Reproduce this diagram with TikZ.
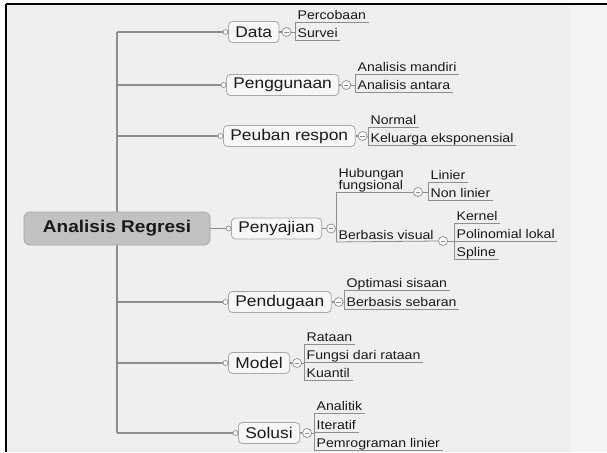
\documentclass[tikz,border=0pt]{standalone}
\usepackage{fontspec}
\setmainfont{Liberation Sans}[FakeStretch=1.12]
\usetikzlibrary{calc}
\definecolor{ln}{HTML}{8E8E8E}
\definecolor{txt}{HTML}{1A1A1A}
\definecolor{bgA}{HTML}{EFEFEF}
\definecolor{bgB}{HTML}{F3F3F3}
\definecolor{boxb}{HTML}{A8A8A8}
\definecolor{rootf}{HTML}{C2C2C2}
\newcommand\leafnode[4]{\node[leaf] (#1) at (#2,#3) {#4}; \draw[uline] (#1.south west) -- (#1.south east);}
\begin{document}
\begin{tikzpicture}[x=1pt,y=-1pt,
  mainbox/.style={draw=boxb, fill=white!97!black, rounded corners=4pt, line width=0.8pt,
    anchor=west, inner xsep=7pt, inner ysep=0pt, minimum height=21pt, text=txt,
    font=\fontsize{15.5}{16}\selectfont},
  rootbox/.style={draw=boxb, fill=rootf, rounded corners=6pt, line width=0.8pt,
    minimum width=186pt, minimum height=33pt, text=txt,
    font=\fontsize{17}{18}\selectfont\bfseries},
  leaf/.style={anchor=south west, inner xsep=2.5pt, inner ysep=2pt, text height=9pt, text depth=0pt,
    text=txt, font=\fontsize{12.6}{12.8}\selectfont},
  uline/.style={draw=ln, line width=0.8pt},
  branch/.style={draw=ln, line width=1.3pt},
  trunkline/.style={draw=ln, line width=1.8pt},
  brk/.style={draw=ln, line width=0.9pt},
  dotc/.style={draw=ln, fill=white, line width=0.7pt},
  tog/.style={circle, draw=ln, fill=white, line width=0.7pt, minimum size=9pt, inner sep=0pt,
    path picture={\draw[ln, line width=0.7pt] ([xshift=-2.2pt]path picture bounding box.center) -- ([xshift=2.2pt]path picture bounding box.center);}}
]
\useasboundingbox (0,0) rectangle (607,452);
\fill[bgA] (6,5) rectangle (607,452);
\fill[bgB] (570,5) rectangle (607,452);
\draw[black, line width=2pt] (6,4.5) -- (607,4.5);
\draw[black, line width=1.5pt] (6,4) -- (6,452);

% main nodes
\node[mainbox] (data) at (228,32) {Data};
\node[mainbox] (guna) at (226,85) {Penggunaan};
\node[mainbox] (peuban) at (223,136) {Peuban respon};
\node[mainbox] (saji) at (231,228.5) {Penyajian};
\node[mainbox] (duga) at (228,302) {Pendugaan};
\node[mainbox] (model) at (228,363) {Model};
\node[mainbox] (solusi) at (238,433) {Solusi};

% trunk
\coordinate (tk) at (117,228.5);
\draw[trunkline] (tk |- data.west) -- (tk |- solusi.west);
\foreach \n in {data,guna,peuban,duga,model,solusi}{
  \draw[branch] (tk |- \n.west) -- ($(\n.west)+(-5,0)$);
  \draw[dotc] ($(\n.west)+(-2.5,0)$) circle (2.5pt);
}
\node[rootbox] (root) at (tk) {Analisis Regresi};
\draw[branch] (root.east) -- ($(saji.west)+(-5,0)$);
\draw[dotc] ($(saji.west)+(-2.5,0)$) circle (2.5pt);

% toggles
\foreach \n in {data,guna,peuban,duga,model,solusi}{
  \node[tog] (\n T) at ($(\n.east)+(7,0)$) {};
  \draw[branch] (\n.east) -- (\n T.west);
}
\node[tog] (sajiT) at ($(saji.east)+(9,0)$) {};
\draw[branch] (saji.east) -- (sajiT.west);

% Data
\leafnode{d1}{295}{22}{Percobaan}
\leafnode{d2}{295}{40}{Survei}
\draw[brk] (d1.south west) -- (d2.south west);
\draw[brk] (dataT.east) -- (dataT -| d1.south west);

% Penggunaan
\leafnode{g1}{355}{74}{Analisis mandiri}
\leafnode{g2}{355}{92}{Analisis antara}
\draw[brk] (g1.south west) -- (g2.south west);
\draw[brk] (gunaT.east) -- (gunaT -| g1.south west);

% Peuban respon
\leafnode{p1}{368}{127}{Normal}
\leafnode{p2}{368}{145}{Keluarga eksponensial}
\draw[brk] (p1.south west) -- (p2.south west);
\draw[brk] (peubanT.east) -- (peubanT -| p1.south west);

% Penyajian
\node[leaf, align=left, text height=9pt] (s1) at (336,192) {Hubungan\\fungsional};
\node[tog] (s1T) at (418,192) {};
\draw[uline] (s1.south west) -- (s1T.west);
\node[leaf] (s2) at (336,242) {Berbasis visual};
\node[tog] (s2T) at (443,241) {};
\draw[uline] (s2.south west) -- (s2T.west);
\draw[brk] (s1.south west) -- (s2.south west);
\draw[brk] (sajiT.east) -- (sajiT -| s1.south west);

\leafnode{h1}{428}{182}{Linier}
\leafnode{h2}{428}{200}{Non linier}
\draw[brk] (h1.south west) -- (h2.south west);
\draw[brk] (s1T.east) -- (s1T -| h1.south west);

\leafnode{v1}{454}{223}{Kernel}
\leafnode{v2}{454}{241}{Polinomial lokal}
\leafnode{v3}{454}{259}{Spline}
\draw[brk] (v1.south west) -- (v3.south west);
\draw[brk] (s2T.east) -- (s2T -| v1.south west);

% Pendugaan
\leafnode{e1}{344}{290}{Optimasi sisaan}
\leafnode{e2}{344}{309}{Berbasis sebaran}
\draw[brk] (e1.south west) -- (e2.south west);
\draw[brk] (dugaT.east) -- (dugaT -| e1.south west);

% Model
\leafnode{m1}{304}{344}{Rataan}
\leafnode{m2}{304}{362}{Fungsi dari rataan}
\leafnode{m3}{304}{380}{Kuantil}
\draw[brk] (m1.south west) -- (m3.south west);
\draw[brk] (modelT.east) -- (modelT -| m1.south west);

% Solusi
\leafnode{o1}{314}{413}{Analitik}
\leafnode{o2}{314}{432}{Iteratif}
\leafnode{o3}{314}{450}{Pemrograman linier}
\draw[brk] (o1.south west) -- (o3.south west);
\draw[brk] (solusiT.east) -- (solusiT -| o1.south west);
\end{tikzpicture}
\end{document}
